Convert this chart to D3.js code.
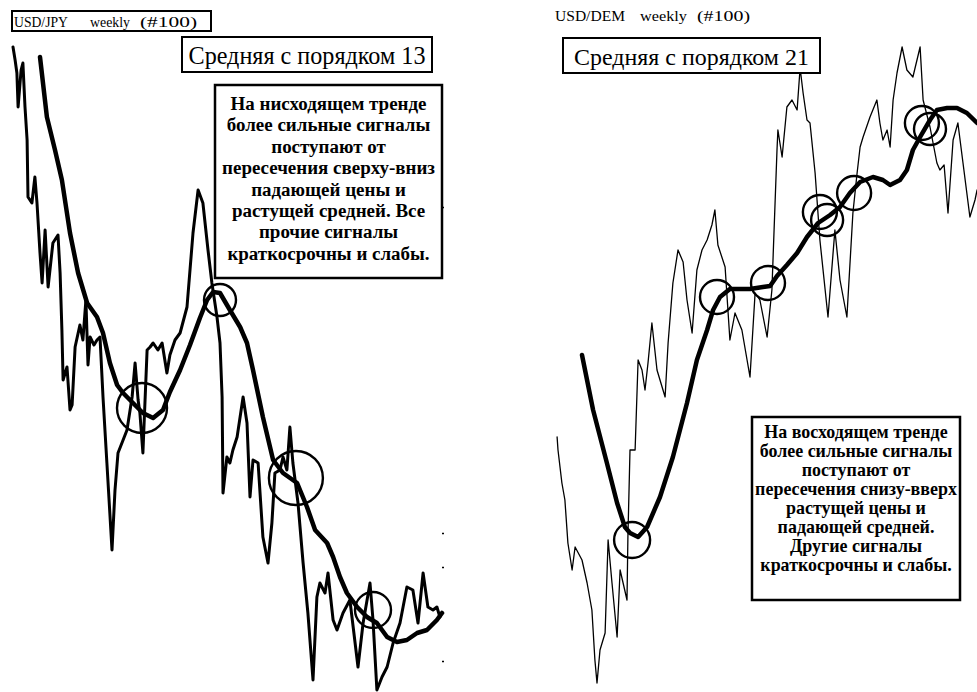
<!DOCTYPE html>
<html><head><meta charset="utf-8">
<script src="https://cdn.jsdelivr.net/npm/d3@7"></script>
<style>body{margin:0;background:#fff}svg{display:block}</style>
</head><body><svg id="c" width="977" height="692"></svg>
<script>
// ---------- USD/JPY weekly (#100), MA order 13 ----------
const jpyWeeks = [1,1.7,2.3,2.7,3.7,4.3,5,5.7,6,7.3,8.3,9,10,10.7,11.7,12.7,14.3,16,16.7,17.3,17.7,19,20,20.7,21.7,23.3,24.3,25.3,26,26.7,28,29,30,31,32.3,34,35,36,37.7,39,40.7,41.7,42.7,43.3,44.3,45.7,46.7,47.7,49.3,50.7,52.3,53.3,55,56.7,59,61,62.7,64.3,66,67.3,69,70,70.7,71,72.3,73.3,74.3,75.7,77.7,79,80,81,82.7,84.3,86,87.3,88.3,90,91,92.3,93.3,94.3,96,97.7,99.3,101,102.3,103.3,105,106,107.7,109,111,113.3,116,117.7,120,121,122.3,124,125.7,127.7,130,132.3,134.3,136,137.7,139.3,141,142.3,143.3];
const jpyPrice = [128.6,126,123.4,116.6,124,125.4,116.6,110,98.6,97.4,102.6,97.4,87.4,81.4,92,80.6,89.4,91,83.4,72,62,64.6,56,57,68.6,73,70,78,65,70.6,69,70,70.6,58.6,45.4,28,40,47.4,50,52,58.6,65.4,58,55.4,47.4,68,68.6,69.4,68,69.4,63.4,67,70,71.4,76.6,91.4,100,97.4,88,81.4,74.6,69.4,58.6,39.4,46.6,45.4,48,50.6,58.6,53.4,38.6,46,45.4,30.6,25.4,33.4,43.4,44,46.6,44,52.6,45.4,37.4,25.4,15.4,2,18.6,21.4,19.4,23.4,14,12,15.4,18,4.6,13.4,21.4,14,0,2.6,4.6,9.4,13.4,20.6,20,13.4,23.4,16.6,16,16.6,14.6];
const jpyMAWeeks = [10,12.3,15,17.3,20,22.7,25.7,29,31,33.3,35.7,37.7,41,44.3,47.7,51,53.3,56.7,60,63.3,65.7,67.7,70,73.3,76.7,79,81,84.3,87.7,91,95.7,99,101.7,105.7,107.7,110,112.3,115.7,119,122.3,125.7,129,132.3,135.7,139,142.3,144];
const jpyMA = [126.6,114.6,108,102,91.4,83.4,77.4,74.6,71.4,65.4,61,59.4,57.4,55.4,54.4,56,59.6,64,69,74.4,78,79.6,79.4,76,72.6,69.4,64,54.6,46,43.4,41.4,36.6,32,29.4,26.6,22.6,19.4,16.6,14.6,13.4,10.6,9.6,10,11.4,12,14,15.4];
const jpyCrossWeeks = [44,70,95.3,121];
const jpyCrossValues = [56.4,78,42.4,16];
const jpyAxisTicks = [96.6,31.4,24.6,5.8];

// ---------- USD/DEM weekly (#100), MA order 21 ----------
const demWeeks = [0.7,1,2.3,3.3,4.3,5.7,6.7,9,10.7,12.3,13.3,14,15,16.7,17.7,19,20.7,21.7,22.7,24,24.3,25,26.7,27.7,29,30,31,32.3,34,36.7,37.7,39.3,41,42.7,44,45.7,47.3,49,50.7,52.3,53.3,54.3,56.7,58.3,60,62.3,65,66.7,68.3,70.7,72.3,74,74.3,75.7,77.3,79,80.7,81.7,82.7,84,85,86.7,88.3,91,93.3,95,97.3,99.3,100.7,101.7,102.7,105,107.3,108.3,109.3,110.7,111.7,112.7,114,115.7,117.3,119.3,121.7,122.7,125,127.3,128.3,129.7,131,132.7,134.3,136,138.3,140,140.7];
const demPrice = [50.6,48,41.4,38,29.4,24,28.6,26,21.4,16,6,1.4,8,11.4,30,21.4,10.6,24,21.4,18,30.6,48,48,66,64,60,65.4,73.4,64,58.6,69.4,81.4,88,85.6,78,71.4,84,88,90,93,96,89,84.6,70,75.4,72,62.6,79.4,78,70.6,80,108,112,106.6,116.6,118,116,124.4,119.4,114,113.4,103.4,90,74.6,92,82,74.6,95.4,103.4,108.6,110.6,114.6,118,113.4,110,112,108.6,118,123.4,128.6,124,122.6,128.6,118,112.6,105.4,104,105,95.4,110,113.4,105.4,94.6,98,100];
const demMAWeeks = [9,12.7,17.3,20.7,23.3,25,27.7,30.7,35,39.3,44,47.3,50.7,52.7,55,58.3,65,69.3,71.7,74,77.3,80.7,84,87.7,91.7,95,98.3,101.7,106,109.3,111.7,115,117.3,119.3,121.7,125,127.3,130.7,134,137.3,140.7];
const demMA = [67,56,45.4,37.4,32.6,31.4,30.6,32.6,38.6,46.6,57.4,66,72,76,78.6,80.2,80.2,80.6,80.8,82.8,85,87.4,90.6,93.4,95,96.6,99.4,101.6,102.6,102,101,102,104,108,110.6,114,116,116.4,116.4,115.4,113.4];
const demCrossWeeks = [25.7,54,71,88.3,90.7,99.7,122.3,125];
const demCrossValues = [30,78.6,81.4,95.6,94,99.4,113.4,112.2];

const jpyTitle = ["USD/JPY", "weekly", "(#100)"];
const demTitle = ["USD/DEM", "weekly", "(#100)"];
const jpyHeading = "Средняя с порядком 13";
const demHeading = "Средняя с порядком 21";
const jpyNote = ["На нисходящем тренде","более сильные сигналы","поступают от","пересечения сверху-вниз","падающей цены и","растущей средней. Все","прочие сигналы","краткосрочны и слабы."];
const demNote = ["На восходящем тренде","более сильные сигналы","поступают от","пересечения снизу-вверх","растущей цены и","падающей средней.","Другие сигналы","краткосрочны и слабы."];

// ---------- drawing ----------
const svg = d3.select("#c");
svg.append("rect").attr("width",977).attr("height",692).attr("fill","#fff");
const SERIF = "'Liberation Serif','Times New Roman',serif";

const xL = d3.scaleLinear().domain([0,144]).range([10,442]);
const yL = d3.scaleLinear().domain([0,130]).range([690,40]);
const xR = d3.scaleLinear().domain([0,140]).range([555,975]);
const yR = d3.scaleLinear().domain([0,130]).range([690,40]);

// faint right-hand scale remnants of the left chart
svg.append("g").attr("transform","translate(442,0)")
  .call(d3.axisRight(yL).tickValues(jpyAxisTicks).tickSize(2).tickFormat(""))
  .call(g=>g.select(".domain").remove())
  .selectAll("line").attr("stroke","#000").attr("stroke-width",1.5);

function drawSeries(weeks, vals, xs, ys, w) {
  const pts = weeks.map((d,i)=>[d, vals[i]]);
  svg.append("path").datum(pts)
    .attr("d", d3.line().x(d=>xs(d[0])).y(d=>ys(d[1])))
    .attr("fill","none").attr("stroke","#000").attr("stroke-width",w)
    .attr("stroke-linejoin","round").attr("stroke-linecap","round");
}
drawSeries(jpyWeeks, jpyPrice, xL, yL, 3);
drawSeries(jpyMAWeeks, jpyMA, xL, yL, 4.5);
drawSeries(demWeeks, demPrice, xR, yR, 1.3);
drawSeries(demMAWeeks, demMA, xR, yR, 4.5);

function drawCircles(weeks, vals, xs, ys, radii) {
  svg.append("g").selectAll("circle").data(weeks).join("circle")
    .attr("cx",(d)=>xs(d)).attr("cy",(d,i)=>ys(vals[i]))
    .attr("r",(d,i)=>radii[i]).attr("fill","none").attr("stroke","#000").attr("stroke-width",2.4);
}
drawCircles(jpyCrossWeeks, jpyCrossValues, xL, yL, [25,16,27,18]);
drawCircles(demCrossWeeks, demCrossValues, xR, yR, [18,17,17,17,16,17,17,16]);

// small title labels, each word stretched to the scan's width
function smallTitle(words, xs, widths, y, size) {
  words.forEach((w,i)=>svg.append("text").attr("x",xs[i]).attr("y",y)
    .attr("font-family",SERIF).attr("font-size",size)
    .attr("textLength",widths[i]).attr("lengthAdjust","spacingAndGlyphs").text(w));
}
svg.append("rect").attr("x",12).attr("y",11).attr("width",199).attr("height",20)
  .attr("fill","#fff").attr("stroke","#000").attr("stroke-width",2);
smallTitle(jpyTitle, [14,90,140], [54,40,57], 27, 14);
smallTitle(demTitle, [555,640,697], [70,47,53], 21, 14);

function fitText(sel, target) {
  const w = sel.node().getComputedTextLength();
  const fs = parseFloat(sel.attr("font-size"));
  sel.attr("font-size", fs*target/w);
}
function heading(txt, bx, by, bw, bh, tw) {
  svg.append("rect").attr("x",bx).attr("y",by).attr("width",bw).attr("height",bh)
    .attr("fill","#fff").attr("stroke","#000").attr("stroke-width",2);
  const t = svg.append("text").attr("x",bx+bw/2).attr("y",by+bh-8).attr("text-anchor","middle")
    .attr("font-family",SERIF).attr("font-size",22).text(txt);
  fitText(t, tw);
}
heading(jpyHeading, 182, 37, 250, 35, 237);
heading(demHeading, 563, 38, 257, 35, 235);

function note(lines, bx, by, bw, bh, y0, dy, maxW) {
  svg.append("rect").attr("x",bx).attr("y",by).attr("width",bw).attr("height",bh)
    .attr("fill","#fff").attr("stroke","#000").attr("stroke-width",2.5);
  const g = svg.append("g").attr("font-family",SERIF).attr("font-weight","bold").attr("font-size",16);
  const ts = g.selectAll("text").data(lines).join("text")
    .attr("x",bx+bw/2).attr("y",(d,i)=>y0+i*dy).attr("text-anchor","middle").text(d=>d);
  let m = 0; ts.each(function(){ m = Math.max(m, this.getComputedTextLength()); });
  g.attr("font-size", 16*maxW/m);
}
note(jpyNote, 215, 85, 227, 193, 110, 21.4, 213);
note(demNote, 752, 417, 208, 183, 438, 19, 202);
</script></body></html>
